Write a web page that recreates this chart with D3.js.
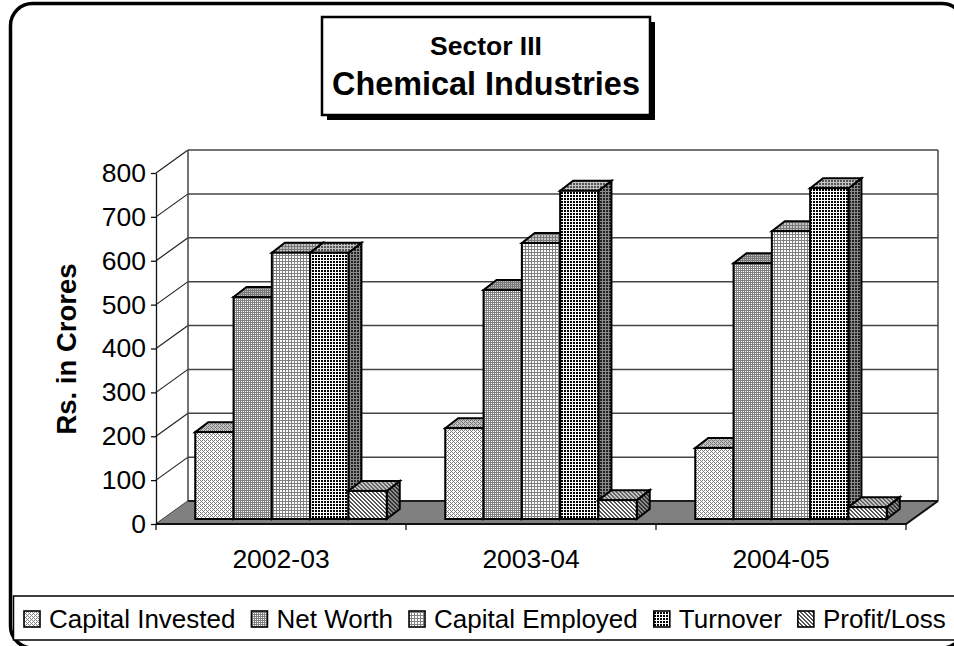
<!DOCTYPE html>
<html>
<head>
<meta charset="utf-8">
<script src="https://cdn.jsdelivr.net/npm/d3@7"></script>
<style>
html,body{margin:0;padding:0;background:#fff;overflow:hidden}
svg{display:block}
text{font-family:'Liberation Sans',Arial,sans-serif;fill:#000}
</style>
</head>
<body>
<div id="chart"></div>
<script>
const categories = ['2002-03','2003-04','2004-05'];
const series = ['Capital Invested','Net Worth','Capital Employed','Turnover','Profit/Loss'];
const capitalInvested = [198,207,162];
const netWorth = [506,522,583];
const capitalEmployed = [607,629,656];
const turnover = [607,748,754];
const profitLoss = [64,43,27];
const yTicks = [0,100,200,300,400,500,600,700,800];
const allValues = [capitalInvested,netWorth,capitalEmployed,turnover,profitLoss];

// 1-bit fill tiles, '#' dark, 'x' mid grey, 'd' dark grey, '.' the face colour
const tiles = [
  ['x.x.','.x..','x.x.','...x'],
  ['xx','x.'],
  ['xxx','x..','x..'],
  ['##.','##.','...'],
  ['dd..','.dd.','..dd','d..d']
];
const faces = {
  front:{bg:'#fff',dark:'#000',mid:'#808080',dim:'#555'},
  top:{bg:'#c4c4c4',dark:'#555',mid:'#777',dim:'#666'},
  side:{bg:'#8a8a8a',dark:'#222',mid:'#444',dim:'#333'}
};

const W=954,H=646;
const svg=d3.select('#chart').append('svg').attr('width',W).attr('height',H);
const defs=svg.append('defs');

tiles.forEach((t,i)=>{
  Object.keys(faces).forEach(f=>{
    const fc=faces[f];
    const p=defs.append('pattern').attr('id',`p${i}-${f}`).attr('patternUnits','userSpaceOnUse')
      .attr('width',t[0].length).attr('height',t.length);
    p.append('rect').attr('width',t[0].length).attr('height',t.length).attr('fill',fc.bg);
    t.forEach((row,r)=>row.split('').forEach((c,k)=>{
      if(c==='.') return;
      p.append('rect').attr('x',k).attr('y',r).attr('width',1).attr('height',1)
        .attr('fill',c==='#'?fc.dark:c==='d'?fc.dim:fc.mid).attr('shape-rendering','crispEdges');
    }));
  });
});

/* ---------- frame ---------- */
svg.append('rect').attr('x',10.5).attr('y',3.5).attr('width',953.5).attr('height',644.5).attr('rx',22)
  .attr('fill','#fff').attr('stroke','#000').attr('stroke-width',3.5);

/* ---------- scales ---------- */
const M={l:156,r:906,t:173,b:524}, DX=32, DY=-23;
const x0=d3.scaleBand().domain(categories).range([M.l,M.r]);
const x1=d3.scaleBand().domain(series).range([0,x0.bandwidth()]).paddingInner(0).paddingOuter(.764);
const y=d3.scaleLinear().domain([0,800]).range([M.b,M.t]);
const pts=a=>a.map(d=>d.join(',')).join(' ');

/* ---------- walls + floor ---------- */
const walls=svg.append('g');
walls.selectAll('.back').data(yTicks).join('line')
  .attr('x1',M.l+DX).attr('x2',M.r+DX).attr('y1',d=>y(d)+DY).attr('y2',d=>y(d)+DY)
  .attr('stroke','#444').attr('stroke-width',1.5);
walls.selectAll('.sidewall').data(yTicks).join('line')
  .attr('x1',M.l).attr('x2',M.l+DX).attr('y1',d=>y(d)).attr('y2',d=>y(d)+DY)
  .attr('stroke','#222').attr('stroke-width',1.2);
[M.l+DX,M.r+DX].forEach(xx=>walls.append('line').attr('x1',xx).attr('x2',xx)
  .attr('y1',y(800)+DY).attr('y2',y(0)+DY).attr('stroke','#444').attr('stroke-width',1.5));
walls.append('polygon')
  .attr('points',pts([[M.l,y(0)],[M.r,y(0)],[M.r+DX,y(0)+DY],[M.l+DX,y(0)+DY]]))
  .attr('fill','#808080');
walls.append('path').attr('d',`M${M.l},${y(0)}H${M.r}L${M.r+DX},${y(0)+DY}`)
  .attr('fill','none').attr('stroke','#111').attr('stroke-width',2);
walls.append('line').attr('x1',M.l+DX).attr('x2',M.r+DX).attr('y1',y(0)+DY).attr('y2',y(0)+DY)
  .attr('stroke','#000').attr('stroke-width',1.5);

/* ---------- axes ---------- */
const gy=svg.append('g').attr('transform',`translate(${M.l},0)`)
  .call(d3.axisLeft(y).tickValues(yTicks).tickSize(5).tickPadding(5).tickSizeOuter(0));
gy.selectAll('text').style('font-size','26.5px');
gy.selectAll('line,path').attr('stroke','#111').attr('stroke-width',1.3);

const gx=svg.append('g').attr('transform',`translate(0,${M.b})`)
  .call(d3.axisBottom(x0).tickSize(0).tickPadding(25));
gx.selectAll('text').style('font-size','26.5px');
gx.select('path').remove();
svg.append('g').selectAll('line').data(categories.concat('')).join('line')
  .attr('x1',(d,i)=>M.l+i*x0.step()).attr('x2',(d,i)=>M.l+i*x0.step())
  .attr('y1',M.b).attr('y2',M.b+6).attr('stroke','#111').attr('stroke-width',1.3);

svg.append('text').attr('transform','rotate(-90)').attr('x',-349).attr('y',76)
  .attr('text-anchor','middle').attr('font-weight','bold').style('font-size','27.5px').text('Rs. in Crores');

/* ---------- bars ---------- */
const shiftX=10, shiftY=-5, depthX=13, depthY=-10;
const bars=svg.append('g').attr('stroke','#000').attr('stroke-width',2).attr('stroke-linejoin','miter');
categories.forEach((c,ci)=>{
  series.forEach((s,si)=>{
    const v=allValues[si][ci];
    const l=x0(c)+x1(s)+shiftX, r=l+x1.bandwidth();
    const t=y(v)+shiftY, b=y(0)+shiftY;
    bars.append('polygon').attr('points',pts([[r,t],[r+depthX,t+depthY],[r+depthX,b+depthY],[r,b]]))
      .attr('fill',`url(#p${si}-side)`);
    bars.append('polygon').attr('points',pts([[l,t],[l+depthX,t+depthY],[r+depthX,t+depthY],[r,t]]))
      .attr('fill',`url(#p${si}-top)`);
    bars.append('rect').attr('x',l).attr('y',t).attr('width',r-l).attr('height',b-t)
      .attr('fill',`url(#p${si}-front)`);
  });
});

/* ---------- title box ---------- */
svg.append('rect').attr('x',327).attr('y',22).attr('width',328).attr('height',98).attr('fill','#000');
svg.append('rect').attr('x',322).attr('y',17).attr('width',328).attr('height',98)
  .attr('fill','#fff').attr('stroke','#000').attr('stroke-width',2.5);
svg.append('text').attr('x',486).attr('y',55).attr('text-anchor','middle').attr('font-weight','bold')
  .style('font-size','26.5px').text('Sector III');
svg.append('text').attr('x',486).attr('y',95).attr('text-anchor','middle').attr('font-weight','bold')
  .style('font-size','32.4px').text('Chemical Industries');

/* ---------- legend ---------- */
svg.append('path').attr('d',`M${W},596H13.5V640H${W}`).attr('fill','#fff').attr('stroke','#000').attr('stroke-width',1.5);
let lx=24;
series.forEach((s,i)=>{
  const g=svg.append('g');
  g.append('rect').attr('x',lx).attr('y',611).attr('width',16).attr('height',16)
    .attr('fill',`url(#p${i}-front)`).attr('stroke','#000').attr('stroke-width',1.6);
  const tx=g.append('text').attr('x',lx+25).attr('y',628).style('font-size','26px').text(s);
  lx+=25+tx.node().getComputedTextLength()+16;
});
</script>
</body>
</html>
